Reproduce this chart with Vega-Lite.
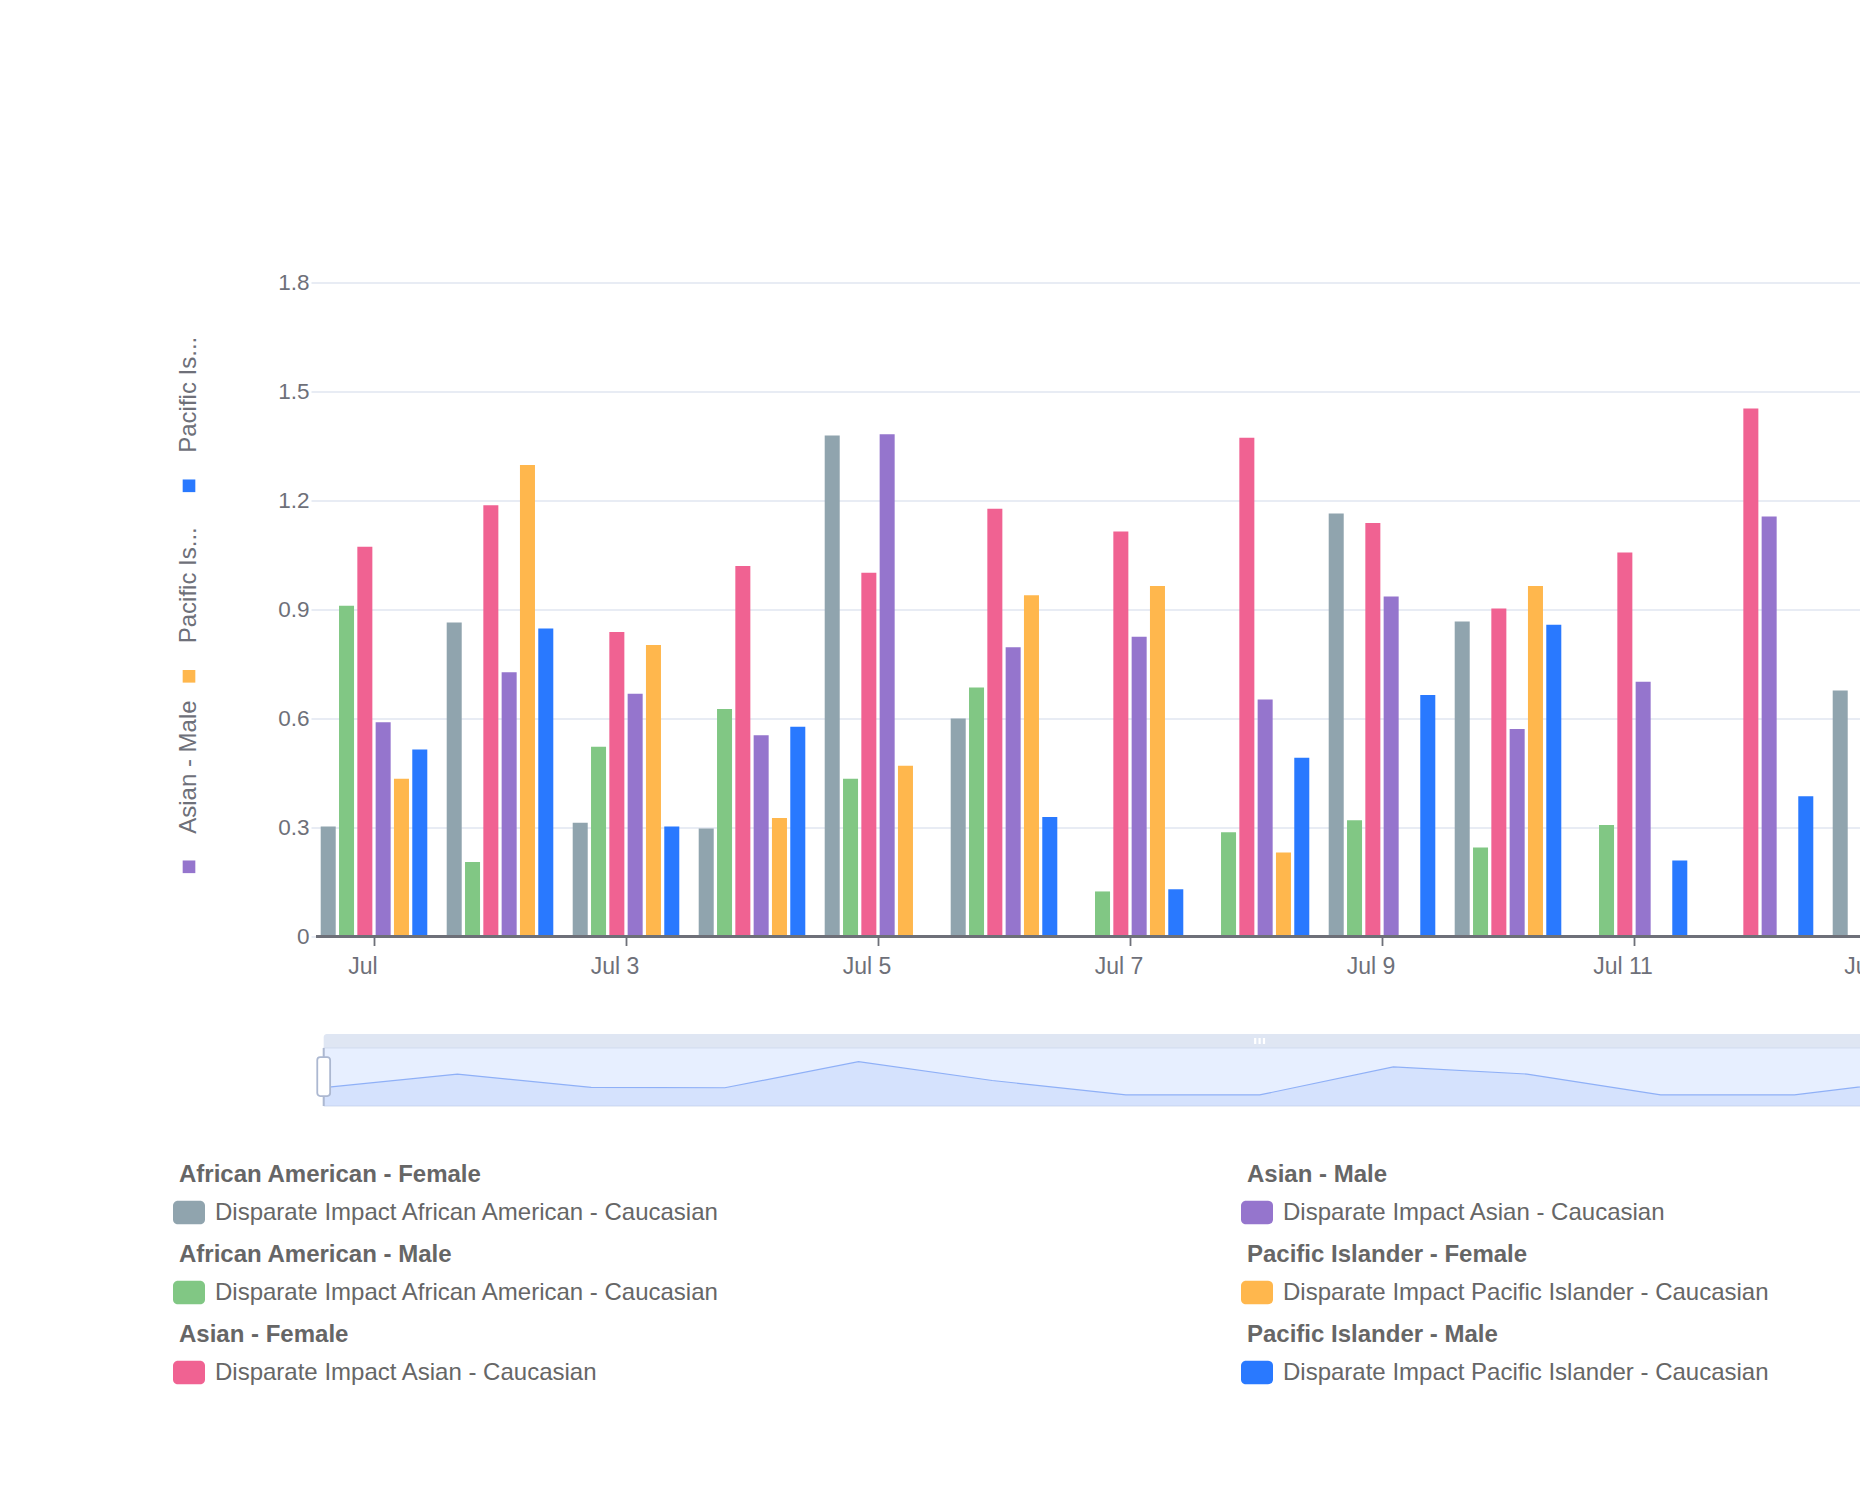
{
  "$schema": "https://vega.github.io/schema/vega-lite/v6.json",
  "usermeta": {"embedOptions": {"actions": false}},
  "autosize": "none",
  "width": 1544,
  "height": 654,
  "padding": {"left": 316, "top": 282.5, "right": 0, "bottom": 563.5},
  "background": "white",
  "config": {"view": {"stroke": null}, "font": "Liberation Sans"},
  "resolve": {"scale": {"x": "independent", "y": "independent"}},
  "layer": [
    {
      "data": {"values": [
        {"day": "Jul 1", "series": "African American - Female", "value": 0.303},
        {"day": "Jul 1", "series": "African American - Male", "value": 0.91},
        {"day": "Jul 1", "series": "Asian - Female", "value": 1.073},
        {"day": "Jul 1", "series": "Asian - Male", "value": 0.59},
        {"day": "Jul 1", "series": "Pacific Islander - Female", "value": 0.434},
        {"day": "Jul 1", "series": "Pacific Islander - Male", "value": 0.515},
        {"day": "Jul 2", "series": "African American - Female", "value": 0.864},
        {"day": "Jul 2", "series": "African American - Male", "value": 0.205},
        {"day": "Jul 2", "series": "Asian - Female", "value": 1.187},
        {"day": "Jul 2", "series": "Asian - Male", "value": 0.727},
        {"day": "Jul 2", "series": "Pacific Islander - Female", "value": 1.298},
        {"day": "Jul 2", "series": "Pacific Islander - Male", "value": 0.848},
        {"day": "Jul 3", "series": "African American - Female", "value": 0.313},
        {"day": "Jul 3", "series": "African American - Male", "value": 0.522},
        {"day": "Jul 3", "series": "Asian - Female", "value": 0.838},
        {"day": "Jul 3", "series": "Asian - Male", "value": 0.668},
        {"day": "Jul 3", "series": "Pacific Islander - Female", "value": 0.802},
        {"day": "Jul 3", "series": "Pacific Islander - Male", "value": 0.303},
        {"day": "Jul 4", "series": "African American - Female", "value": 0.297},
        {"day": "Jul 4", "series": "African American - Male", "value": 0.626},
        {"day": "Jul 4", "series": "Asian - Female", "value": 1.02},
        {"day": "Jul 4", "series": "Asian - Male", "value": 0.554},
        {"day": "Jul 4", "series": "Pacific Islander - Female", "value": 0.326},
        {"day": "Jul 4", "series": "Pacific Islander - Male", "value": 0.577},
        {"day": "Jul 5", "series": "African American - Female", "value": 1.379},
        {"day": "Jul 5", "series": "African American - Male", "value": 0.434},
        {"day": "Jul 5", "series": "Asian - Female", "value": 1.001},
        {"day": "Jul 5", "series": "Asian - Male", "value": 1.382},
        {"day": "Jul 5", "series": "Pacific Islander - Female", "value": 0.47},
        {"day": "Jul 6", "series": "African American - Female", "value": 0.6},
        {"day": "Jul 6", "series": "African American - Male", "value": 0.685},
        {"day": "Jul 6", "series": "Asian - Female", "value": 1.177},
        {"day": "Jul 6", "series": "Asian - Male", "value": 0.796},
        {"day": "Jul 6", "series": "Pacific Islander - Female", "value": 0.939},
        {"day": "Jul 6", "series": "Pacific Islander - Male", "value": 0.329},
        {"day": "Jul 7", "series": "African American - Male", "value": 0.124},
        {"day": "Jul 7", "series": "Asian - Female", "value": 1.115},
        {"day": "Jul 7", "series": "Asian - Male", "value": 0.825},
        {"day": "Jul 7", "series": "Pacific Islander - Female", "value": 0.965},
        {"day": "Jul 7", "series": "Pacific Islander - Male", "value": 0.13},
        {"day": "Jul 8", "series": "African American - Male", "value": 0.287},
        {"day": "Jul 8", "series": "Asian - Female", "value": 1.373},
        {"day": "Jul 8", "series": "Asian - Male", "value": 0.652},
        {"day": "Jul 8", "series": "Pacific Islander - Female", "value": 0.231},
        {"day": "Jul 8", "series": "Pacific Islander - Male", "value": 0.492},
        {"day": "Jul 9", "series": "African American - Female", "value": 1.164},
        {"day": "Jul 9", "series": "African American - Male", "value": 0.32},
        {"day": "Jul 9", "series": "Asian - Female", "value": 1.138},
        {"day": "Jul 9", "series": "Asian - Male", "value": 0.936},
        {"day": "Jul 9", "series": "Pacific Islander - Male", "value": 0.665},
        {"day": "Jul 10", "series": "African American - Female", "value": 0.867},
        {"day": "Jul 10", "series": "African American - Male", "value": 0.245},
        {"day": "Jul 10", "series": "Asian - Female", "value": 0.903},
        {"day": "Jul 10", "series": "Asian - Male", "value": 0.571},
        {"day": "Jul 10", "series": "Pacific Islander - Female", "value": 0.965},
        {"day": "Jul 10", "series": "Pacific Islander - Male", "value": 0.858},
        {"day": "Jul 11", "series": "African American - Male", "value": 0.307},
        {"day": "Jul 11", "series": "Asian - Female", "value": 1.057},
        {"day": "Jul 11", "series": "Asian - Male", "value": 0.701},
        {"day": "Jul 11", "series": "Pacific Islander - Male", "value": 0.209},
        {"day": "Jul 12", "series": "Asian - Female", "value": 1.453},
        {"day": "Jul 12", "series": "Asian - Male", "value": 1.156},
        {"day": "Jul 12", "series": "Pacific Islander - Male", "value": 0.386},
        {"day": "Jul 13", "series": "African American - Female", "value": 0.677}
      ]},
      "layer": [
        {
          "mark": {"type": "bar"},
          "encoding": {
            "x": {
              "field": "day", "type": "ordinal",
              "scale": {
                "domain": ["Jul 1","Jul 2","Jul 3","Jul 4","Jul 5","Jul 6","Jul 7","Jul 8","Jul 9","Jul 10","Jul 11","Jul 12","Jul 13","Jul 14","Jul 15"],
                "range": [-5, 1885], "paddingInner": 0, "paddingOuter": 0
              },
              "axis": {
                "values": ["Jul 1","Jul 3","Jul 5","Jul 7","Jul 9","Jul 11","Jul 13","Jul 15"],
                "labelExpr": "datum.value == 'Jul 1' ? 'Jul' : datum.value",
                "title": null, "domain": false, "grid": false,
                "bandPosition": 0.5,
                "tickColor": "#6E7079", "tickSize": 9, "tickWidth": 1.8,
                "labelPadding": 10, "labelFontSize": 23, "labelColor": "#6E7079",
                "labelFont": "Liberation Sans", "labelAngle": 0, "labelAlign": "center",
                "labelOffset": -11, "labelOverlap": false
              }
            },
            "xOffset": {
              "field": "series", "type": "nominal",
              "scale": {
                "domain": ["African American - Female","African American - Male","Asian - Female","Asian - Male","Pacific Islander - Female","Pacific Islander - Male"],
                "paddingInner": 0.18, "paddingOuter": 0.53
              }
            },
            "y": {
              "field": "value", "type": "quantitative",
              "scale": {"domain": [0, 1.8], "nice": false},
              "axis": {
                "values": [0, 0.3, 0.6, 0.9, 1.2, 1.5, 1.8],
                "format": ".1~f", "title": null, "domain": false,
                "ticks": false, "tickSize": 0, "labelPadding": 7,
                "labelFontSize": 22.5, "labelColor": "#6E7079", "labelFont": "Liberation Sans",
                "grid": true, "gridColor": "#E0E6F1", "gridWidth": 1.5
              }
            },
            "color": {
              "field": "series", "type": "nominal",
              "scale": {
                "domain": ["African American - Female","African American - Male","Asian - Female","Asian - Male","Pacific Islander - Female","Pacific Islander - Male"],
                "range": ["#90A4AE","#81C784","#F06292","#9575CD","#FFB74D","#2979FF"]
              },
              "legend": null
            }
          }
        },
        {
          "mark": {"type": "rule", "color": "#6E7079", "strokeWidth": 1.8},
          "encoding": {"y": {"datum": 0}}
        }
      ]
    },
    {
      "data": {"values": [{"part": "slider"}]},
      "layer": [
        {
          "mark": {"type": "rect", "fill": "#D2DBEE", "opacity": 0.7, "cornerRadiusTopLeft": 3},
          "encoding": {
            "x": {"datum": 1, "type": "quantitative", "scale": {"domain": [1, 15], "range": [7.7, 1879.5], "nice": false, "zero": false}, "axis": null},
            "x2": {"datum": 15},
            "y": {"datum": 1.95, "type": "quantitative", "scale": {"domain": [-0.46, 2.53], "range": [823.5, 751.5], "nice": false, "zero": false}, "axis": null},
            "y2": {"datum": 2.53}
          }
        },
        {
          "mark": {"type": "rect", "fill": "rgb(135,175,255)", "fillOpacity": 0.2, "stroke": "#D2DBEE", "strokeWidth": 1},
          "encoding": {
            "x": {"datum": 1, "type": "quantitative"}, "x2": {"datum": 15},
            "y": {"datum": -0.46, "type": "quantitative"}, "y2": {"datum": 1.95}
          }
        }
      ]
    },
    {
      "data": {"values": [
        {"day": 1, "v": 0.303},
        {"day": 2, "v": 0.864},
        {"day": 3, "v": 0.313},
        {"day": 4, "v": 0.297},
        {"day": 5, "v": 1.379},
        {"day": 6, "v": 0.6},
        {"day": 7, "v": 0},
        {"day": 8, "v": 0},
        {"day": 9, "v": 1.164},
        {"day": 10, "v": 0.867},
        {"day": 11, "v": 0},
        {"day": 12, "v": 0},
        {"day": 13, "v": 0.677}
      ]},
      "encoding": {
        "x": {"field": "day", "type": "quantitative", "scale": {"domain": [1, 15], "range": [7.7, 1879.5], "nice": false, "zero": false}, "axis": null},
        "y": {"field": "v", "type": "quantitative", "scale": {"domain": [-0.46, 2.53], "range": [823.5, 751.5], "nice": false, "zero": false}, "axis": null}
      },
      "layer": [
        {
          "mark": {"type": "area", "color": "#8FB0F7", "opacity": 0.2},
          "encoding": {"y2": {"datum": -0.46}}
        },
        {
          "mark": {"type": "line", "color": "#8FB0F7", "strokeWidth": 1.2}
        }
      ]
    },
    {
      "data": {"values": [{"part": "handle"}]},
      "layer": [
        {
          "mark": {"type": "rule", "color": "#ACB8D1", "strokeWidth": 2},
          "encoding": {
            "x": {"datum": 1, "type": "quantitative", "scale": {"domain": [1, 15], "range": [7.7, 1879.5], "nice": false, "zero": false}, "axis": null},
            "y": {"datum": -0.46, "type": "quantitative", "scale": {"domain": [-0.46, 2.53], "range": [823.5, 751.5], "nice": false, "zero": false}, "axis": null},
            "y2": {"datum": 1.95}
          }
        },
        {
          "mark": {
            "type": "point", "filled": true, "fill": "white", "opacity": 1,
            "stroke": "#ACB8D1", "strokeWidth": 1.8, "size": 1521,
            "shape": "M-0.18,-1H0.18A0.15,0.15,0,0,1,0.33,-0.85V0.85A0.15,0.15,0,0,1,0.18,1H-0.18A0.15,0.15,0,0,1,-0.33,0.85V-0.85A0.15,0.15,0,0,1,-0.18,-1Z"
          },
          "encoding": {"x": {"datum": 1, "type": "quantitative"}, "y": {"datum": 0.764, "type": "quantitative"}}
        },
        {
          "mark": {
            "type": "point", "filled": true, "fill": "white", "opacity": 1, "strokeWidth": 0, "size": 121,
            "shape": "M-1,-0.55H-0.6V0.55H-1Z M-0.2,-0.55H0.2V0.55H-0.2Z M0.6,-0.55H1V0.55H0.6Z"
          },
          "encoding": {"x": {"datum": 8, "type": "quantitative"}, "y": {"datum": 2.24, "type": "quantitative"}}
        }
      ]
    },
    {
      "data": {"values": [
        {"series": "African American - Female", "label": "Disparate Impact African American - Caucasian", "col": 0, "row": 0},
        {"series": "African American - Male", "label": "Disparate Impact African American - Caucasian", "col": 0, "row": 1},
        {"series": "Asian - Female", "label": "Disparate Impact Asian - Caucasian", "col": 0, "row": 2},
        {"series": "Asian - Male", "label": "Disparate Impact Asian - Caucasian", "col": 1, "row": 0},
        {"series": "Pacific Islander - Female", "label": "Disparate Impact Pacific Islander - Caucasian", "col": 1, "row": 1},
        {"series": "Pacific Islander - Male", "label": "Disparate Impact Pacific Islander - Caucasian", "col": 1, "row": 2}
      ]},
      "encoding": {
        "x": {"field": "col", "type": "ordinal", "scale": {"type": "point", "domain": [0, 1], "range": [-127, 941], "padding": 0}, "axis": null},
        "y": {"field": "row", "type": "ordinal", "scale": {"type": "point", "domain": [0, 1, 2], "range": [930, 1090], "padding": 0}, "axis": null}
      },
      "layer": [
        {
          "mark": {
            "type": "point", "filled": true, "opacity": 1, "strokeWidth": 0, "size": 1024,
            "shape": "M-0.69,-0.74H0.69A0.31,0.31,0,0,1,1,-0.43V0.43A0.31,0.31,0,0,1,0.69,0.74H-0.69A0.31,0.31,0,0,1,-1,0.43V-0.43A0.31,0.31,0,0,1,-0.69,-0.74Z"
          },
          "encoding": {"color": {"field": "series", "type": "nominal", "legend": null}}
        },
        {
          "mark": {"type": "text", "align": "left", "baseline": "middle", "dx": -10, "dy": -37.5, "font": "Liberation Sans", "fontSize": 24, "fontWeight": "bold", "color": "#666666"},
          "encoding": {"text": {"field": "series"}}
        },
        {
          "mark": {"type": "text", "align": "left", "baseline": "middle", "dx": 26, "font": "Liberation Sans", "fontSize": 24, "color": "#666666"},
          "encoding": {"text": {"field": "label"}}
        }
      ]
    },
    {
      "data": {"values": [
        {"series": "Asian - Male", "text": "Asian - Male", "k": 0},
        {"series": "Pacific Islander - Female", "text": "Pacific Is...", "k": 1},
        {"series": "Pacific Islander - Male", "text": "Pacific Is...", "k": 2}
      ]},
      "encoding": {
        "x": {"datum": 0, "type": "ordinal", "scale": {"type": "point", "domain": [0, 1], "range": [-127, 941], "padding": 0}, "axis": null},
        "y": {"field": "k", "type": "ordinal", "scale": {"type": "point", "domain": [0, 1, 2], "range": [584.3, 203.3], "padding": 0}, "axis": null}
      },
      "layer": [
        {
          "mark": {"type": "point", "shape": "square", "filled": true, "opacity": 1, "strokeWidth": 0, "size": 160},
          "encoding": {"color": {"field": "series", "type": "nominal", "legend": null}}
        },
        {
          "mark": {"type": "text", "angle": 270, "align": "left", "baseline": "middle", "dx": 33, "font": "Liberation Sans", "fontSize": 24, "color": "#6E7079"},
          "encoding": {"text": {"field": "text"}}
        }
      ]
    }
  ]
}
